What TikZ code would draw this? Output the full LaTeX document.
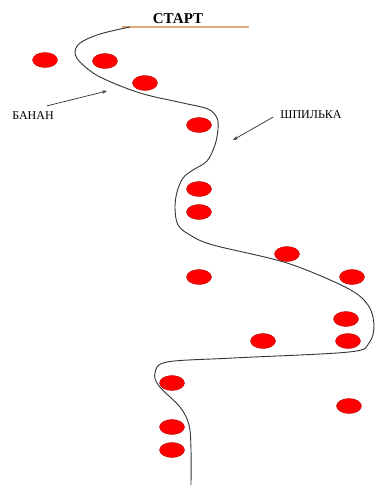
\documentclass[tikz,border=0pt]{standalone}
\usepackage{fontspec}
\setmainfont{Liberation Serif}
\usetikzlibrary{shapes.geometric,arrows.meta}

\definecolor{startline}{RGB}{228,170,120}

\tikzset{
    chip/.style={ellipse, minimum width=25pt, minimum height=15pt, inner sep=0pt,
        fill=red, draw=red!75!black, line width=0.4pt},
    label/.style={font=\fontsize{12}{14}\selectfont, inner sep=0pt},
    pointer/.style={-{Stealth[length=5pt,width=3.5pt]}, line width=0.7pt, black!80},
}

\begin{document}
\begin{tikzpicture}[x=1pt,y=-1pt]
        \useasboundingbox (0,0) rectangle (376,488);
        % start line
        \node[font=\fontsize{15}{17}\selectfont\bfseries, inner sep=0pt] (start) at (178,19) {СТАРТ};
        \coordinate (startL) at (122,27);
        \coordinate (startR) at (249,27);
        \draw[line width=1.2pt, startline] (startL) -- (startR); %start line
        % the track
        \draw[line width=0.9pt, black!80] plot[smooth, tension=0.55] coordinates {
            (130,27) (100,34) (80,43) (75,53) (81,63) (100,77) (140,93) (183,103)
            (208,109) (217,118) (218,129) (215,145) (207,161) (193,170) (183,178)
            (177,192) (175,208) (178,225) (190,235) (213,245) (287,263) (347,288)
            (368,305) (374,325) (369,343) (349,352) (233,358) (167,362) (155,373)
            (159,386) (180,407) (189,425) (191,450) (191,485)};
        % chips
        \node[chip] (c1) at (45,60) {};
        \node[chip] (c2) at (105,61) {};
        \node[chip] (c3) at (145,83) {};
        \node[chip] (c4) at (199,125) {};
        \node[chip] (c5) at (199,189) {};
        \node[chip] (c6) at (199,212) {};
        \node[chip] (c7) at (287,254) {};
        \node[chip] (c8) at (199,277) {};
        \node[chip] (c9) at (352,277) {};
        \node[chip] (c10) at (346,319) {};
        \node[chip] (c11) at (263,341) {};
        \node[chip] (c12) at (348,341) {};
        \node[chip] (c13) at (172,383) {};
        \node[chip] (c14) at (349,406) {};
        \node[chip] (c15) at (172,427) {};
        \node[chip] (c16) at (172,450) {};
        % labels
        \node[label] (banan) at (33,116) {БАНАН};
        \node[label] (shpilka) at (311,115) {ШПИЛЬКА};
        \coordinate (bananTip) at (107,91);
        \coordinate (shpilkaTip) at (233,140);
        \draw[pointer] ([shift={(14,-6)}]banan.north) -- (bananTip); %banana turn
        \draw[pointer] ([shift={(-7,2)}]shpilka.west) -- (shpilkaTip); %hairpin turn
\end{tikzpicture}
\end{document}
